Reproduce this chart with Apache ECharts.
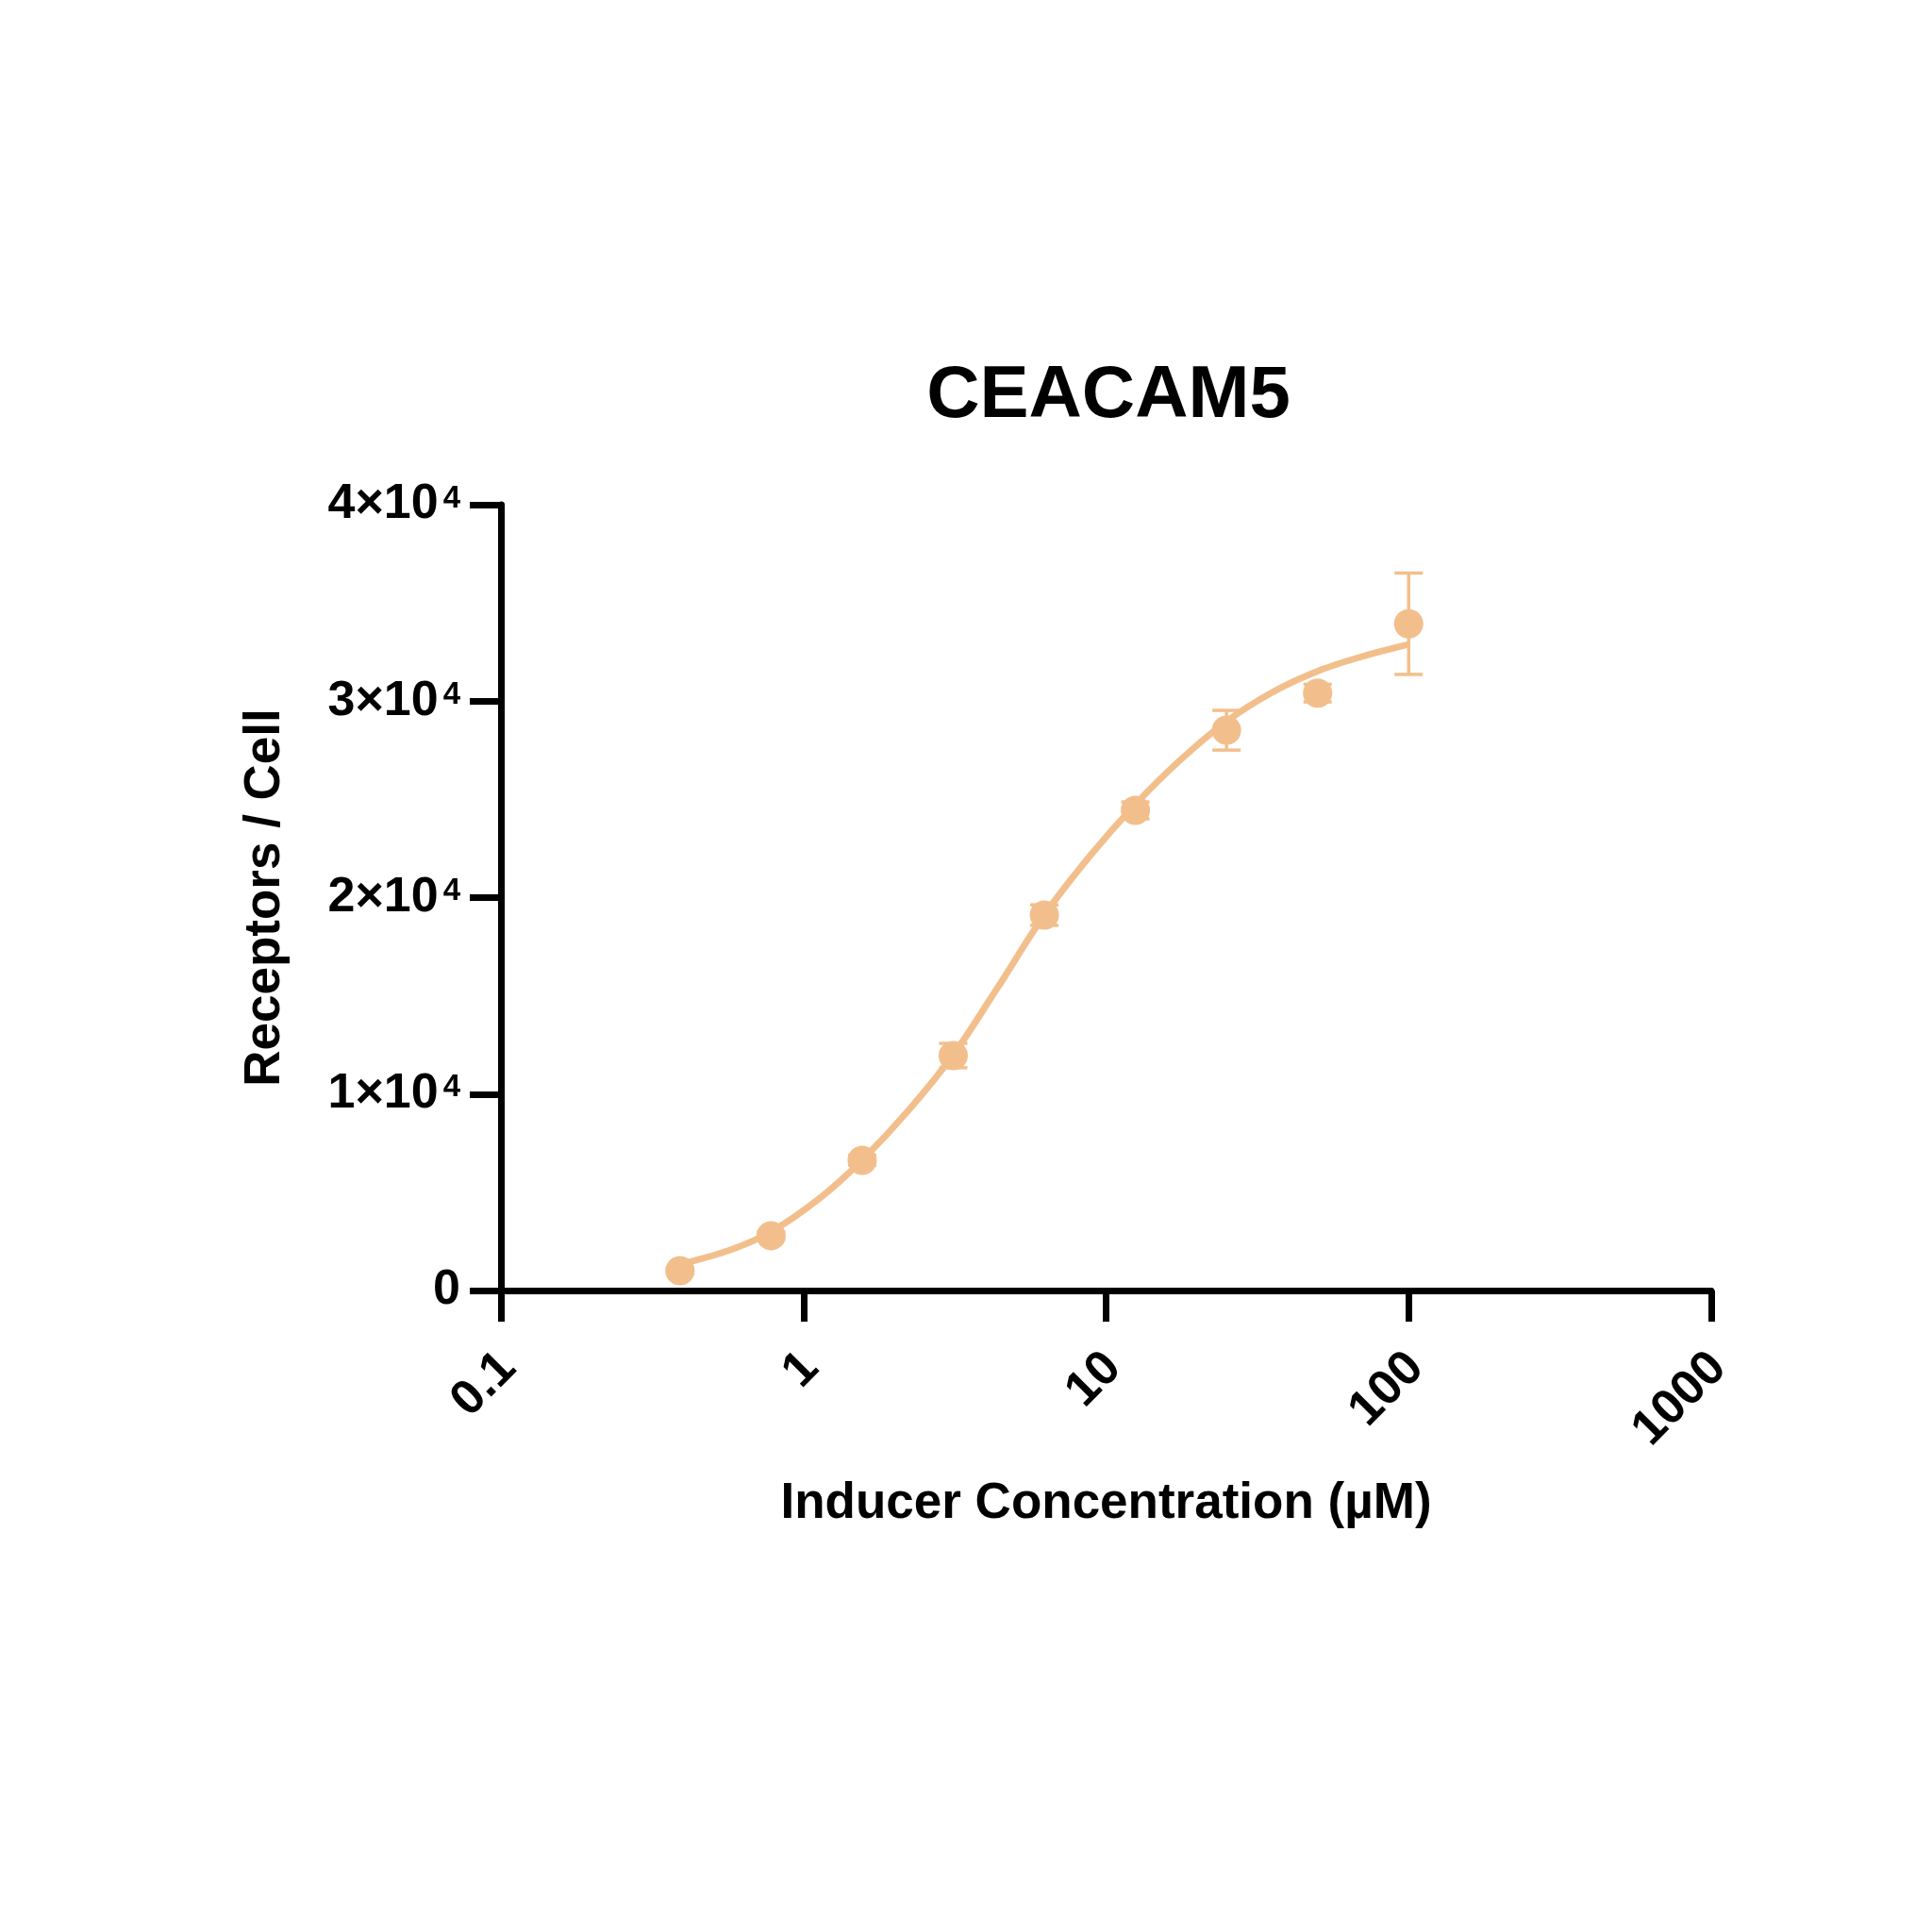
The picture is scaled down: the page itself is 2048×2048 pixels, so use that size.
<!DOCTYPE html>
<html>
<head>
<meta charset="utf-8">
<style>
  html, body { margin: 0; padding: 0; background: #fff; }
  #chart { width: 2048px; height: 2048px; }
</style>
<script src="https://cdn.jsdelivr.net/npm/echarts@6/dist/echarts.min.js"></script>
</head>
<body>
<div id="chart"></div>
<script>
// ---- data ----
const concentrations = [0.390625, 0.78125, 1.5625, 3.125, 6.25, 12.5, 25, 50, 100];
const meanReceptors  = [1010, 2790, 6630, 11960, 19110, 24440, 28520, 30410, 33940];
const errReceptors   = [150, 200, 250, 620, 520, 430, 1010, 450, 2580];
// fitted curve
const fitX = [0.390625, 0.567, 0.78125, 1.138, 1.5625, 2.22, 3.125, 4.34, 6.25, 8.9, 12.5, 17.4, 25, 35.6, 50, 71.2, 100];
const fitY = [1340, 2040, 2990, 4730, 6640, 9160, 12000, 15320, 19110, 22170, 24750, 26940, 28970, 30470, 31530, 32300, 32890];
const xTickLabels = ['0.1', '1', '10', '100', '1000'];
const yTickValues = [0, 10000, 20000, 30000, 40000];

const titleText = 'CEACAM5';
const xTitle = 'Inducer Concentration (µM)';
const yTitle = 'Receptors / Cell';

const COLOR = '#F2BF8C';
const FONT = 'Liberation Sans, Arial, Helvetica, sans-serif';

const points = concentrations.map((c, i) => [c, meanReceptors[i]]);
const errData = concentrations.map((c, i) => [c, meanReceptors[i] - errReceptors[i], meanReceptors[i] + errReceptors[i]]);
const fitData = fitX.map((x, i) => [x, fitY[i]]);

const chart = echarts.init(document.getElementById('chart'), null, { renderer: 'canvas' });

chart.setOption({
  backgroundColor: '#ffffff',
  animation: false,
  title: {
    text: titleText,
    left: 1175,
    top: 381,
    textAlign: 'center',
    padding: 0,
    textStyle: { fontFamily: FONT, fontWeight: 'bold', fontSize: 78, color: '#000' }
  },
  grid: { left: 531, right: 234, top: 535, bottom: 680, containLabel: false },
  xAxis: {
    type: 'log',
    logBase: 10,
    min: 0.1,
    max: 1000,
    name: xTitle,
    nameLocation: 'middle',
    nameGap: 200,
    nameTextStyle: { fontFamily: FONT, fontWeight: 'bold', fontSize: 53, color: '#000' },
    axisLine: { show: true, lineStyle: { color: '#000', width: 7 } },
    axisTick: { show: true, length: 33, lineStyle: { color: '#000', width: 7 } },
    minorTick: { show: false },
    splitLine: { show: false },
    axisLabel: {
      rotate: 45,
      margin: 82,
      padding: [0, -11, 0, 0],
      fontFamily: FONT, fontWeight: 'bold', fontSize: 52, color: '#000',
      formatter: function (v) {
        const k = Math.round(Math.log10(v)) + 1;
        return xTickLabels[k] !== undefined ? xTickLabels[k] : '';
      }
    }
  },
  yAxis: {
    type: 'value',
    min: 0,
    max: 40000,
    interval: 10000,
    name: yTitle,
    nameLocation: 'middle',
    nameGap: 223,
    nameTextStyle: { fontFamily: FONT, fontWeight: 'bold', fontSize: 53, color: '#000' },
    axisLine: { show: true, lineStyle: { color: '#000', width: 7 } },
    axisTick: { show: true, length: 33, lineStyle: { color: '#000', width: 7 } },
    splitLine: { show: false },
    axisLabel: {
      margin: 43,
      fontFamily: FONT, fontWeight: 'bold', fontSize: 52, color: '#000',
      formatter: function (v) {
        if (yTickValues.indexOf(v) < 0) return '';
        if (v === 0) return '{a|0}';
        return '{a|' + (v / 10000) + '×10}{s|4}';
      },
      rich: {
        a: { fontFamily: FONT, fontWeight: 'bold', fontSize: 52, color: '#000', lineHeight: 56 },
        s: { fontFamily: FONT, fontWeight: 'bold', fontSize: 33, color: '#000', lineHeight: 33, verticalAlign: 'top', padding: [5, 0, 0, 5] }
      }
    }
  },
  series: [
    {
      type: 'line',
      data: fitData,
      smooth: 0.35,
      showSymbol: false,
      lineStyle: { color: COLOR, width: 7 },
      z: 2
    },
    {
      type: 'custom',
      data: errData,
      z: 3,
      renderItem: function (params, api) {
        const x = api.value(0);
        const lo = api.coord([x, api.value(1)]);
        const hi = api.coord([x, api.value(2)]);
        const hw = 15;
        const style = { stroke: COLOR, lineWidth: 3.5, fill: 'none' };
        return {
          type: 'group',
          children: [
            { type: 'line', shape: { x1: lo[0], y1: lo[1], x2: hi[0], y2: hi[1] }, style: style },
            { type: 'line', shape: { x1: lo[0] - hw, y1: lo[1], x2: lo[0] + hw, y2: lo[1] }, style: style },
            { type: 'line', shape: { x1: hi[0] - hw, y1: hi[1], x2: hi[0] + hw, y2: hi[1] }, style: style }
          ]
        };
      }
    },
    {
      type: 'scatter',
      data: points,
      symbol: 'circle',
      symbolSize: 31,
      itemStyle: { color: COLOR, opacity: 1 },
      z: 4
    }
  ]
});
</script>
</body>
</html>
